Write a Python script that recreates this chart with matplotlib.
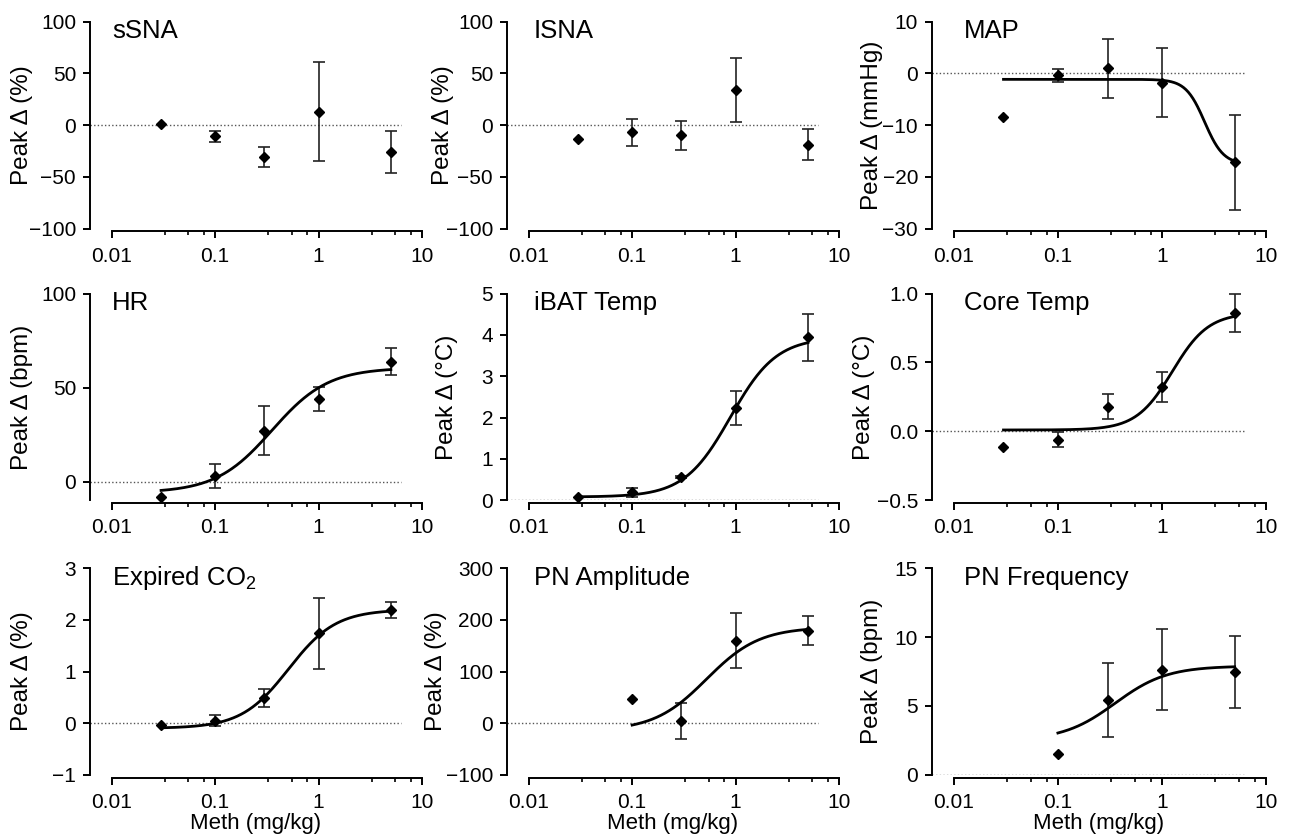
import numpy as np
import matplotlib
matplotlib.use("Agg")
import matplotlib.pyplot as plt
from matplotlib.ticker import FixedLocator, NullFormatter

plt.rcParams['font.family'] = ['Liberation Sans', 'DejaVu Sans']
plt.rcParams['mathtext.fontset'] = 'custom'
plt.rcParams['mathtext.rm'] = 'Liberation Sans'
plt.rcParams['mathtext.it'] = 'Liberation Sans'
plt.rcParams['axes.unicode_minus'] = True

# ---------------- data ----------------
doses = [0.03, 0.1, 0.3, 1, 5]
doses_pn = [0.1, 0.3, 1, 5]

ssna_mean = [1, -11, -31, 13, -26]
ssna_err = [np.nan, 5, 10, 48, 20]

isna_mean = [-13, -7, -10, 34, -19]
isna_err = [np.nan, 13, 14, 31, 15]

map_mean = [-8.4, -0.4, 1.0, -1.8, -17.2]
map_err = [np.nan, 1.2, 5.7, 6.7, 9.2]

hr_mean = [-8, 2.8, 27, 44, 63.8]
hr_err = [np.nan, 6.5, 13, 6.5, 7]

ibat_mean = [0.09, 0.19, 0.56, 2.23, 3.94]
ibat_err = [np.nan, 0.11, 0.03, 0.41, 0.56]

core_mean = [-0.11, -0.06, 0.18, 0.32, 0.86]
core_err = [np.nan, 0.055, 0.09, 0.11, 0.14]

co2_mean = [-0.03, 0.05, 0.49, 1.74, 2.19]
co2_err = [np.nan, 0.10, 0.17, 0.69, 0.16]

pnamp_mean = [46.6, 5, 160, 179]
pnamp_err = [np.nan, 35, 54, 28]

pnfreq_mean = [1.5, 5.45, 7.63, 7.46]
pnfreq_err = [np.nan, 2.7, 2.95, 2.6]

# fitted 4-parameter logistic curves: (bottom, top, logEC50, hill, x_start, x_end)
map_fit = (-1.15, -17.6, 0.41, 4.8, 0.03, 5)
hr_fit = (-6, 60.5, -0.45, 1.6, 0.03, 5)
ibat_fit = (0.08, 3.94, -0.05, 1.95, 0.03, 5)
core_fit = (0.01, 0.86, 0.10, 2.5, 0.03, 5)
co2_fit = (-0.1, 2.2, -0.29, 1.9, 0.03, 5)
pnamp_fit = (-15, 186, -0.28, 1.7, 0.1, 5)
pnfreq_fit = (2.5, 7.9, -0.45, 1.74, 0.1, 5)

titles = ["sSNA", "ISNA", "MAP", "HR", "iBAT Temp", "Core Temp",
          "Expired CO$_2$", "PN Amplitude", "PN Frequency"]
ylabels = ["Peak Δ (%)", "Peak Δ (%)", "Peak Δ (mmHg)",
           "Peak Δ (bpm)", "Peak Δ (°C)", "Peak Δ (°C)",
           "Peak Δ (%)", "Peak Δ (%)", "Peak Δ (bpm)"]
yticks = [[-100, -50, 0, 50, 100], [-100, -50, 0, 50, 100], [-30, -20, -10, 0, 10],
          [0, 50, 100], [0, 1, 2, 3, 4, 5], [-0.5, 0.0, 0.5, 1.0],
          [-1, 0, 1, 2, 3], [-100, 0, 100, 200, 300], [0, 5, 10, 15]]
ylims = [(-100, 100), (-100, 100), (-30, 10), (-10, 100), (0, 5), (-0.5, 1.0),
         (-1, 3), (-100, 300), (0, 15)]
xticks = [0.01, 0.1, 1, 10]
xticklabels = ["0.01", "0.1", "1", "10"]

panels = [
    (doses, ssna_mean, ssna_err, None),
    (doses, isna_mean, isna_err, None),
    (doses, map_mean, map_err, map_fit),
    (doses, hr_mean, hr_err, hr_fit),
    (doses, ibat_mean, ibat_err, ibat_fit),
    (doses, core_mean, core_err, core_fit),
    (doses, co2_mean, co2_err, co2_fit),
    (doses_pn, pnamp_mean, pnamp_err, pnamp_fit),
    (doses_pn, pnfreq_mean, pnfreq_err, pnfreq_fit),
]

# ---------------- layout ----------------
W, H = 1290, 834
fig = plt.figure(figsize=(W / 100, H / 100), dpi=100)
col_left = [90, 507, 932]
col_right = [422, 839, 1266]
row_top = [21.7, 293.5, 568.3]
row_bot = [228.5, 500.3, 774.8]
label_off = [[57, 53, 49], [57, 49, 57], [57, 60, 49]]
title_off = [22, 27, 32]

xmin = 10 ** -2.21
minor = [m * 10.0 ** k for k in (-2, -1, 0) for m in (3.25, 5.5, 7.8)]

LW = 1.4
for i, (xs, ys, es, fit) in enumerate(panels):
    r, c = divmod(i, 3)
    l, rr, t, b = col_left[c], col_right[c], row_top[r], row_bot[r]
    ax = fig.add_axes([l / W, 1 - b / H, (rr - l) / W, (b - t) / H])
    ax.set_xscale('log')
    ax.set_xlim(xmin, 10)
    ax.set_ylim(*ylims[i])

    ax.hlines(0, xmin, 6.2, colors='#555555', linestyles=(0, (1, 1.6)), linewidth=1.0, zorder=1)

    xs = np.asarray(xs, float)
    ys = np.asarray(ys, float)
    es = np.asarray(es, float)
    has = ~np.isnan(es)
    ax.errorbar(xs[has], ys[has], yerr=es[has], fmt='none', ecolor='#222222',
                elinewidth=1.2, capsize=4.3, capthick=1.2, zorder=2, clip_on=False)
    ax.plot(xs, ys, linestyle='none', marker='D', markersize=5.3, color='black',
            zorder=4, clip_on=False)

    if fit is not None:
        bot, top, lec, hill, x0, x1 = fit
        xx = np.logspace(np.log10(x0), np.log10(x1), 300)
        yy = bot + (top - bot) / (1 + 10 ** ((lec - np.log10(xx)) * hill))
        ax.plot(xx, yy, color='black', linewidth=2.0, zorder=3, clip_on=False)

    for s in ('top', 'right'):
        ax.spines[s].set_visible(False)
    ax.spines['left'].set_linewidth(LW)
    ax.spines['bottom'].set_linewidth(LW)
    ax.spines['bottom'].set_bounds(0.01, 10)
    ax.spines['bottom'].set_position(('outward', 2))

    ax.xaxis.set_major_locator(FixedLocator(xticks))
    ax.set_xticklabels(xticklabels)
    ax.xaxis.set_minor_locator(FixedLocator(minor))
    ax.xaxis.set_minor_formatter(NullFormatter())
    ax.set_yticks(yticks[i])
    if i == 5:
        ax.set_yticklabels(["−0.5", "0.0", "0.5", "1.0"])
    ax.tick_params(axis='x', which='major', direction='out', length=5, width=LW,
                   labelsize=15, pad=6)
    ax.tick_params(axis='x', which='minor', direction='out', length=3, width=1.2)
    ax.tick_params(axis='y', which='major', direction='out', length=5, width=LW,
                   labelsize=15, pad=5)

    ax.set_ylabel(ylabels[i], fontsize=17.5)
    ax.yaxis.set_label_coords(-label_off[r][c] / (rr - l), 0.5)
    if r == 2:
        ax.set_xlabel("Meth (mg/kg)", fontsize=16, labelpad=1)

    ax.text(title_off[c] / (rr - l), 0.92, titles[i], transform=ax.transAxes,
            fontsize=18.5, va='baseline', ha='left')

fig.savefig("out.png", dpi=100)
